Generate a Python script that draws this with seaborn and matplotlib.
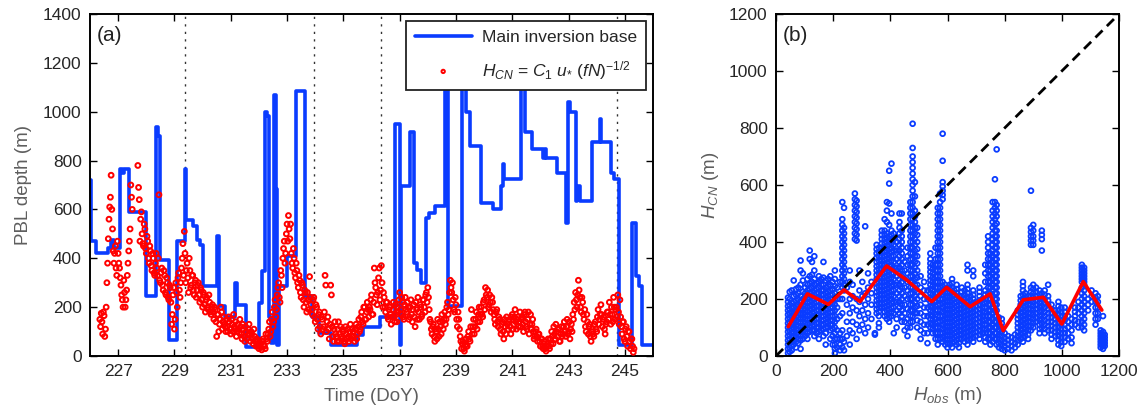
import numpy as np
import pandas as pd
import matplotlib
matplotlib.use("Agg")
import matplotlib.pyplot as plt
import seaborn as sns

# ---------------- data: panel (a) ----------------
# main inversion base (step series): day-of-year, value (m)
inv_day = [226.00, 226.05, 226.22, 226.64, 226.75, 226.87, 227.05, 227.15, 227.20, 227.40,
           228.00, 228.35, 228.40, 228.47, 228.80, 229.08, 229.38, 229.42, 229.65, 229.80,
           229.90, 230.00, 230.50, 230.58, 230.80, 231.15, 231.22, 231.55, 232.00, 232.12,
           232.22, 232.28, 232.36, 232.42, 232.54, 232.60, 232.63, 232.72, 233.00, 233.32,
           233.62, 233.90, 234.15, 234.55, 235.50, 235.70, 236.30, 236.84, 237.00, 237.06,
           237.38, 237.50, 237.60, 237.75, 237.95, 238.05, 238.25, 238.60, 238.72, 239.22,
           239.35, 239.50, 239.90, 240.30, 240.60, 240.68, 240.72, 241.30, 241.45, 241.70,
           242.10, 242.15, 242.20, 242.60, 242.90, 242.98, 243.05, 243.25, 243.30, 243.40,
           243.85, 244.10, 244.16, 244.50, 244.60, 244.78, 245.27, 245.40, 245.50, 245.60,
           246.00]
inv_base = [720, 470, 423, 441, 476, 441, 766, 750, 766, 590,
            244, 936, 900, 394, 66, 470, 766, 558, 531, 476,
            456, 285, 490, 203, 161, 300, 209, 38, 216, 346,
            997, 981, 161, 53, 1068, 682, 45, 285, 408, 1085,
            244, 160, 95, 45, 86, 120, 161, 949, 45, 695,
            915, 380, 353, 300, 566, 587, 613, 1130, 203, 1130,
            997, 860, 628, 600, 695, 784, 723, 1130, 915, 846,
            812, 846, 812, 751, 546, 1039, 997, 634, 695, 634,
            875, 969, 875, 751, 723, 45, 546, 326, 285, 45,
            45]

# H_CN estimate, two interleaved sample sets every 0.05 day
hcn_start_a = 226.35
hcn_start_b = 226.375
hcn_step = 0.05
hcn_vals_a = [
    150, 175, 90, 165, 110, 300, 480, 610, 740, 520,
    380, 450, 330, 420, 360, 290, 230, 310, 200, 270,
    380, 470, 700, 600, np.nan, np.nan, np.nan, 780, 640, 560,
    500, 450, 520, 420, 470, 380, 430, 350, 400, 330,
    420, 330, 660, 300, 360, 270, 330, 250, 300, 230,
    280, 130, 250, 110, 300, 200, 340, 240, 360, 460,
    510, 300, 380, 260, 350, 290, 330, 250, 310, 270,
    300, 220, 270, 200, 250, 180, 240, 190, 220, 170,
    210, 150, 190, 80, 170, 130, 200, 110, 160, 120,
    150, 100, 140, 90, 130, 170, 110, 80, 130, 95,
    120, 70, 110, 60, 100, 85, 130, 60, 90, 50,
    80, 40, 60, 30, 50, 25, 70, 40, 90, 60,
    110, 80, 150, 120, 200, 160, 250, 300, 220, 330,
    400, 470, 420, 540, 575, 480, 420, 360, 400, 320,
    350, 280, 310, 240, 290, 200, 260, 180, 230, 325,
    210, 170, 240, 140, 200, 110, 180, 90, 150, 120,
    330, 100, 160, 70, 290, 120, 60, 140, 80, 110,
    60, 120, 70, 100, 50, 90, 110, 60, 130, 80,
    100, 60, 130, 90, 150, 110, 180, 130, 200, 150,
    220, 160, 190, 250, 170, 360, 280, 210, 320, 230,
    370, 200, 240, 180, 220, 150, 200, 130, 190, 160,
    210, 140, 180, 260, 170, 220, 150, 240, 180, 200,
    160, 230, 140, 210, 120, 190, 240, 150, 200, 170,
    230, 180, 260, 280, 190, 140, 90, 130, 60, 100,
    150, 80, 120, 170, 110, 180, 150, 220, 190, 310,
    260, 230, 180, 210, 120, 150, 80, 30, 60, 20,
    70, 40, 100, 60, 190, 120, 90, 150, 110, 170,
    140, 200, 160, 230, 280, 240, 200, 250, 180, 220,
    170, 130, 190, 120, 150, 90, 140, 70, 120, 160,
    110, 150, 90, 170, 130, 190, 110, 160, 140, 120,
    160, 100, 180, 120, 150, 90, 170, 130, 100, 80,
    110, 60, 90, 40, 70, 30, 60, 20, 50, 40,
    70, 100, 50, 90, 130, 80, 110, 60, 120, 90,
    140, 80, 150, 100, 70, 130, 170, 220, 260, 200,
    310, 240, 180, 220, 150, 120, 170, 90, 130, 60,
    110, 80, 140, 100, 190, 150, 210, 120, 160, 90,
    140, 180, 220, 130, 170, 240, 150, 200, 250, 130,
    160, 90, 140, 60, 120, 40, 100, 30, 70, 15,
]
hcn_vals_b = [
    120, 140, 180, 80, 200, 380, 560, 650, 600, 430,
    420, 360, 470, 380, 320, 250, 200, 260, 230, 330,
    430, 520, 650, np.nan, np.nan, np.nan, np.nan, 690, 470, 590,
    460, 540, 440, 490, 400, 450, 370, 420, 340, 380,
    360, 400, 310, 340, 290, 350, 260, 320, 240, 290,
    220, 170, 280, 150, 260, 320, 270, 300, 400, 330,
    420, 350, 320, 400, 280, 330, 270, 300, 240, 290,
    250, 280, 230, 260, 210, 230, 200, 250, 180, 200,
    180, 200, 140, 170, 100, 150, 180, 140, 130, 100,
    120, 160, 110, 150, 100, 120, 140, 100, 110, 150,
    90, 130, 80, 120, 70, 110, 90, 100, 70, 110,
    60, 70, 40, 50, 35, 60, 45, 30, 70, 90,
    140, 100, 180, 140, 230, 190, 280, 240, 350, 280,
    440, 380, 500, 470, 520, 540, 380, 440, 340, 380,
    300, 330, 260, 300, 230, 270, 220, 260, 190, 240,
    190, 230, 160, 210, 150, 170, 120, 160, 110, 180,
    290, 140, 110, 130, 250, 80, 110, 90, 60, 140,
    90, 80, 110, 60, 120, 70, 80, 100, 70, 110,
    80, 110, 70, 120, 100, 160, 140, 200, 150, 180,
    190, 200, 230, 170, 220, 300, 250, 260, 360, 270,
    300, 260, 200, 220, 160, 190, 170, 160, 220, 140,
    170, 200, 230, 190, 240, 160, 210, 190, 220, 150,
    200, 170, 190, 160, 220, 150, 180, 210, 160, 230,
    200, 250, 220, 240, 150, 110, 120, 80, 110, 70,
    110, 140, 90, 140, 150, 130, 200, 170, 260, 280,
    300, 190, 240, 150, 180, 110, 60, 50, 30, 45,
    40, 80, 70, 120, 90, 150, 120, 180, 140, 200,
    170, 170, 220, 190, 250, 270, 210, 220, 240, 190,
    150, 180, 140, 160, 110, 130, 100, 150, 90, 130,
    140, 120, 160, 110, 160, 140, 150, 120, 180, 150,
    130, 170, 140, 110, 180, 130, 110, 150, 70, 100,
    80, 90, 60, 70, 40, 50, 30, 40, 70, 30,
    50, 80, 120, 70, 100, 110, 60, 90, 80, 120,
    100, 120, 90, 140, 110, 100, 150, 190, 230, 250,
    270, 200, 240, 170, 190, 100, 140, 120, 80, 100,
    90, 130, 110, 160, 130, 170, 170, 150, 110, 130,
    180, 150, 170, 200, 140, 200, 190, 160, 180, 230,
    120, 140, 70, 110, 80, 100, 60, 70, 40, 30,
]
event_days = [229.36, 233.95, 236.34, 244.73]

# ---------------- data: panel (b) ----------------
hobs_cols = [42, 48, 55, 62, 70, 78, 86, 94, 102, 110, 118, 126, 134, 142, 150, 158, 166, 174, 182, 190,
             198, 206, 214, 224, 232, 238, 248, 258, 268, 276, 282, 292, 302, 312, 322, 334, 346, 352, 360, 370,
             380, 388, 396, 404, 412, 422, 432, 440, 450, 460, 470, 478, 486, 494, 506, 518, 530, 540, 548, 558,
             566, 574, 583, 592, 600, 608, 616, 624, 632, 640, 650, 660, 670, 680, 690, 700, 712, 722, 732, 742,
             750, 758, 766, 772, 780, 790, 800, 812, 824, 836, 846, 856, 864, 872, 882, 892, 900, 910, 922, 930,
             940, 952, 964, 976, 988, 998, 1010, 1022, 1034, 1046, 1058, 1070, 1078, 1092, 1104, 1118, 1126, 1136, 1144, 1150]
hcn_cols = [
    [10, 25, 40, 55, 70, 85, 100, 115, 130, 145, 160, 175, 190, 205],
    [15, 30, 45, 60, 75, 90, 105, 120, 135, 150, 165, 180, 200, 225],
    [20, 35, 50, 65, 80, 95, 110, 125, 140, 155, 170, 185, 230],
    [40, 55, 70, 85, 100, 115, 130, 150, 170, 190, 210, 265],
    [30, 50, 65, 80, 95, 110, 125, 140, 155, 175, 195, 215, 235],
    [45, 60, 75, 90, 105, 120, 135, 150, 165, 180, 200, 220, 240],
    [25, 55, 70, 85, 100, 115, 130, 145, 160, 175, 190, 210, 250, 300, 335],
    [60, 75, 90, 105, 120, 135, 150, 165, 180, 200, 225, 265, 290],
    [70, 85, 100, 115, 130, 145, 160, 175, 190, 205, 220, 240],
    [60, 80, 95, 110, 125, 140, 155, 170, 185, 200, 215, 230, 250, 270],
    [85, 100, 115, 130, 145, 160, 175, 190, 205, 220, 235, 255, 280, 340, 370],
    [90, 105, 120, 135, 150, 165, 180, 195, 210, 225, 240, 260, 285, 330],
    [70, 90, 110, 125, 140, 155, 170, 185, 200, 215, 230, 250, 270, 300, 350],
    [80, 100, 115, 130, 145, 160, 175, 190, 205, 220, 235, 255],
    [60, 85, 100, 115, 130, 145, 160, 175, 190, 205, 220, 240, 260, 280],
    [90, 110, 125, 140, 155, 170, 185, 200, 215, 230, 250, 270],
    [70, 95, 110, 125, 140, 155, 170, 185, 200, 215, 230, 250, 275, 330],
    [40, 80, 100, 115, 130, 145, 160, 175, 190, 205, 220, 240, 265],
    [100, 120, 135, 150, 165, 180, 195, 210, 225, 245, 270],
    [60, 90, 110, 125, 140, 155, 170, 185, 200, 215, 230, 250, 280],
    [40, 70, 95, 110, 125, 140, 155, 170, 185, 200, 215, 235, 260],
    [10, 25, 40, 60, 80, 100, 120, 140, 160, 180, 200, 220, 245, 270, 300],
    [30, 60, 90, 130, 170, 200, 240],
    [20, 40, 60, 80, 140, 200, 260],
    [30, 60, 90, 150, 200, 240, 260, 280, 300, 320, 340, 360, 380, 400, 420, 440, 460, 480, 540],
    [20, 50, 230, 250, 270, 290, 310, 330, 350, 370, 390, 410, 430, 450, 520],
    [70, 120, 180, 240],
    [40, 90, 150, 200, 260, 300],
    [80, 120, 170, 210, 250],
    [410, 430, 450, 470, 490, 510, 530, 550, 570],
    [60, 110, 160, 200, 405, 425, 445, 465, 485, 505, 525, 545],
    [90, 140, 190, 230, 300],
    [110, 160, 210, 260],
    [80, 130, 180, 220, 455],
    [100, 150, 200, 240, 290],
    [130, 180, 220, 260],
    [75, 80],
    [150, 165, 180, 195, 210, 225, 240, 255, 270, 285, 300, 315, 330, 345, 360, 375, 390],
    [100, 115, 140, 155, 170, 185, 200, 215, 230, 245, 260, 275, 290, 305, 320, 335, 350, 365, 380],
    [170, 185, 200, 215, 230, 245, 260, 275, 290, 305, 320, 335, 350, 365, 380, 395, 410, 425, 440],
    [140, 155, 170, 185, 200, 215, 230, 245, 260, 275, 290, 305, 320, 335, 350, 365, 380, 395, 410, 425, 440, 480],
    [130, 145, 160, 175, 190, 205, 220, 235, 250, 265, 280, 295, 310, 325, 340, 355, 370, 385, 400, 415, 430, 470, 510, 540],
    [120, 135, 150, 165, 180, 195, 210, 225, 240, 255, 270, 285, 300, 315, 330, 345, 360, 375, 390, 405, 420, 460, 535, 605, 650],
    [140, 155, 170, 185, 200, 215, 230, 245, 260, 275, 290, 305, 320, 335, 350, 365, 380, 395, 410, 425, 440, 500, 675],
    [80, 150, 170, 190, 210, 230, 250, 270, 290, 310, 330, 350, 370, 390, 410, 430],
    [100, 130, 160, 190, 220, 250, 280, 310, 340, 370, 400],
    [150, 170, 190, 210, 230, 250, 270, 290, 310, 330, 350, 370, 390, 410, 430, 450, 470, 500],
    [120, 140, 160, 180, 200, 220, 240, 260, 280, 300, 320, 340, 360, 380, 400, 420, 440, 500],
    [90, 120, 150, 180, 210, 240, 270, 300, 330],
    [70, 100, 130, 165, 200, 230, 260, 290, 320, 350, 380],
    [100, 120, 140, 160, 180, 200, 220, 240, 260, 280, 300, 320, 340, 360, 380, 400, 420, 440, 460, 480, 500, 520, 540],
    [120, 140, 160, 180, 200, 220, 240, 260, 280, 300, 320, 340, 360, 380, 400, 420, 440, 460, 480, 500, 520, 540, 560,
     580, 600, 620, 640, 660, 680, 700, 730, 815],
    [150, 170, 190, 210, 230, 250, 270, 290, 310, 330, 350, 370, 390, 410, 430, 450, 470, 490, 510, 560, 610],
    [100, 125, 150, 175, 200, 225, 250, 275, 300, 325, 350, 375, 400, 425, 450],
    [60, 90, 120, 150, 180, 210, 240, 280],
    [80, 110, 140, 170, 200, 230, 260],
    [45, 80, 110, 140, 170, 200, 230],
    [100, 115, 130, 145, 160, 175, 190, 205, 220, 235, 250, 265, 280, 295, 310, 325, 340, 360],
    [80, 95, 110, 125, 140, 155, 170, 185, 200, 215, 230, 245, 260, 275, 290, 305, 320],
    [60, 80, 100, 115, 130, 145, 160, 175, 190, 205, 220, 240, 260, 280, 300, 320, 340, 380],
    [40, 60, 80, 100, 120, 140, 160, 180, 200, 220, 240, 260, 280, 300, 320, 340, 360, 380, 400, 420, 440, 460, 480,
     500, 520],
    [60, 80, 100, 120, 140, 160, 180, 200, 220, 240, 260, 280, 300, 320, 340, 360, 380, 400, 420, 440, 460, 480, 500,
     520, 540, 570],
    [50, 65, 80, 95, 110, 125, 140, 155, 170, 185, 200, 215, 230, 245, 260, 550, 565, 580, 595, 610, 685, 780],
    [40, 55, 70, 85, 100, 115, 130, 145, 160, 175, 190, 205, 220, 235, 250],
    [30, 45, 60, 75, 90, 105, 120, 135, 150, 165, 180, 195, 210, 225, 240],
    [40, 55, 70, 85, 100, 115, 130, 145, 160, 175, 190, 205, 220, 235, 250],
    [30, 45, 60, 75, 90, 105, 120, 135, 150, 165, 180, 195, 210, 225, 240, 255, 270],
    [50, 65, 80, 95, 110, 125, 140, 155, 170, 185, 200, 215, 230],
    [40, 55, 70, 85, 100, 115, 130, 145, 160, 175, 190, 205, 220, 235, 250],
    [30, 45, 60, 75, 90, 105, 120, 135, 150, 165, 180, 195, 210],
    [60, 75, 90, 105, 120, 135, 150, 165, 180, 195, 210, 225, 240],
    [50, 65, 80, 95, 110, 125, 140, 155, 170, 185, 200, 215, 230],
    [40, 55, 70, 85, 100, 115, 130, 145, 160, 175, 190, 205, 220, 235, 250, 300, 320],
    [60, 75, 90, 105, 120, 135, 150, 165, 180, 195, 210],
    [50, 65, 80, 95, 110, 125, 140, 155, 170, 185, 200, 215, 230, 280, 300],
    [70, 85, 100, 115, 130, 145, 160, 175, 190],
    [60, 75, 90, 105, 120, 135, 150, 165, 180, 195, 210, 225, 240],
    [80, 95, 110, 125, 140, 155, 170, 185, 200],
    [50, 65, 80, 95, 110, 125, 140, 155, 170, 185, 200, 215, 230, 260, 290, 320],
    [60, 80, 100, 120, 140, 160, 180, 200, 220, 240, 260, 280, 300, 320, 340, 360, 380, 400, 420],
    [40, 60, 80, 100, 120, 140, 160, 180, 200, 220, 240, 260, 280, 300, 320, 340, 360],
    [50, 70, 90, 110, 130, 150, 170, 190, 210, 230, 250, 270, 290, 310, 330, 350, 370, 390, 410, 430, 450, 470, 490,
     510, 540],
    [60, 80, 100, 120, 140, 160, 180, 200, 220, 240, 260, 280, 300, 320, 340, 360, 380, 400, 420, 440, 460, 480, 500,
     520, 540, 620],
    [40, 60, 80, 100, 120, 140, 160, 180, 200, 220, 240, 260, 280, 300, 320, 340, 360, 380, 400, 420, 440, 465, 490,
     510, 530, 725],
    [30, 45, 60, 75, 90, 105, 120, 135],
    [25, 40, 55, 70, 85, 100, 115, 130],
    [20, 35, 50, 65, 80],
    [25, 40, 55, 70],
    [20, 35, 50, 65],
    [30, 45, 60, 75],
    [40, 55, 70, 85, 100, 115, 130, 145, 160],
    [60, 75, 90, 105, 120, 135, 150, 165, 180, 195, 210],
    [50, 65, 80, 95, 110, 125, 140, 155, 170, 185, 200, 215, 230, 245, 260],
    [70, 85, 100, 115, 130, 145, 160, 175, 190, 205, 220],
    [60, 75, 90, 105, 120, 135, 150, 165, 180, 195, 210],
    [90, 105, 120, 135, 150, 165, 180, 195, 210, 225, 240, 390, 405, 420, 435, 450, 580],
    [100, 115, 130, 145, 160, 175, 190, 205, 220, 235, 250, 390, 405, 420, 440, 460],
    [120, 135, 150, 165, 180, 195, 210, 225, 240],
    [80, 95, 110, 125, 140, 155, 170, 185, 200, 215, 230],
    [100, 115, 130, 145, 160, 175, 190, 205, 220, 370, 410, 425, 440],
    [80, 95, 110, 125, 140, 155, 170, 185, 200, 215, 230],
    [90, 105, 120, 135, 150, 165, 180, 195, 210, 250],
    [60, 75, 90, 105, 120, 135, 150, 165, 180],
    [70, 85, 100, 115, 130, 145, 160],
    [40, 55, 70, 85, 100, 115, 130, 145, 160, 175, 190],
    [35, 50, 65, 80, 95, 110, 125, 140, 155, 170],
    [50, 65, 80, 95, 110, 125, 140, 155, 170],
    [60, 80, 100, 120, 140],
    [45, 65, 90, 110, 130],
    [110, 125, 140, 155, 170],
    [100, 120, 150, 170, 190],
    [100, 120, 140, 160, 180, 200, 220, 240, 260, 270, 280, 290, 300, 310, 320],
    [90, 110, 130, 150, 170, 190, 210, 230, 250, 260, 270, 280, 290, 300, 310],
    [160, 180, 200],
    [190, 210, 230],
    [110, 130, 150, 170, 190, 205, 220],
    [130, 150, 170, 190, 210],
    [30, 40, 50, 60, 70, 80, 90],
    [25, 35, 45, 55, 65, 75, 85, 140],
    [35, 45, 55, 65, 75],
]
# bin medians of H_CN vs H_obs
med_x = [43, 110, 183, 238, 294, 387, 457, 545, 597, 679, 749, 795, 865, 935, 1000, 1075, 1140]
med_y = [103, 218, 181, 232, 191, 316, 267, 191, 241, 173, 218, 89, 197, 206, 112, 261, 161]
one_to_one = [0, 1200]

# ---------------- build tables ----------------
df_inv = pd.DataFrame({"day": inv_day, "h": inv_base})
day_a = hcn_start_a + hcn_step * np.arange(len(hcn_vals_a))
day_b = hcn_start_b + hcn_step * np.arange(len(hcn_vals_b))
df_hcn = pd.DataFrame({"day": np.concatenate([day_a, day_b]),
                       "h": np.concatenate([hcn_vals_a, hcn_vals_b])}).dropna()
bx, by = [], []
for xv, ys in zip(hobs_cols, hcn_cols):
    bx += [xv] * len(ys)
    by += ys
df_b = pd.DataFrame({"hobs": bx, "hcn": by})

# ---------------- style ----------------
sns.set_style("ticks")
plt.rcParams["font.family"] = ["Liberation Sans", "DejaVu Sans"]
plt.rcParams["mathtext.fontset"] = "custom"
plt.rcParams["mathtext.rm"] = "Liberation Sans"
plt.rcParams["mathtext.it"] = "Liberation Sans:italic"
plt.rcParams["mathtext.bf"] = "Liberation Sans:bold"

BLUE = "#0a3cff"
RED = "#ff0000"
TICKC = "#262626"
LABC = "#5e5e5e"

fig = plt.figure(figsize=(11.45, 4.19), dpi=100)
ax1 = fig.add_axes([90 / 1145, 63 / 419, 563 / 1145, 342 / 419])
ax2 = fig.add_axes([776 / 1145, 63 / 419, 343 / 1145, 342 / 419])

# ---- panel (a)
for d in event_days:
    ax1.axvline(d, color="#333333", lw=1.0, ls=(0, (1.6, 3.8)), zorder=1)
sns.lineplot(data=df_inv, x="day", y="h", drawstyle="steps-post", estimator=None, sort=False,
             color=BLUE, lw=2.6, ax=ax1, label="Main inversion base", zorder=2)
sns.scatterplot(data=df_hcn, x="day", y="h", marker="o", s=12, facecolors="none",
                edgecolor=RED, linewidth=1.4, ax=ax1, zorder=3,
                label=r"$H_{CN}$ = $C_{1}$ $u_{*}$ $(fN)^{-1/2}$")
ax1.set_xlim(226, 246)
ax1.set_ylim(0, 1400)
ax1.set_xticks(range(227, 246, 2))
ax1.set_yticks(range(0, 1401, 200))
ax1.set_xlabel("Time (DoY)", fontsize=13.5, color=LABC, labelpad=6)
ax1.set_ylabel("PBL depth (m)", fontsize=13.5, color=LABC, labelpad=8)
ax1.text(0.012, 0.965, "(a)", transform=ax1.transAxes, fontsize=15, va="top", ha="left", color="#222222")
leg = ax1.legend(loc="upper right", fontsize=12.5, frameon=True, fancybox=False, framealpha=1,
                 edgecolor="#222222", handlelength=3.3, borderaxespad=0.4, borderpad=0.5,
                 labelspacing=0.8, handletextpad=0.6, markerscale=0.7)
leg.get_frame().set_linewidth(1.3)

# ---- panel (b)
sns.scatterplot(data=df_b, x="hobs", y="hcn", marker="o", s=12, facecolors="none",
                edgecolor=BLUE, linewidth=1.3, ax=ax2, zorder=2, legend=False)
sns.lineplot(x=one_to_one, y=one_to_one, color="black", lw=2.0, ax=ax2, zorder=3,
             ls=(0, (3.6, 2.2)))
sns.lineplot(x=med_x, y=med_y, color=RED, lw=2.6, estimator=None, sort=False, ax=ax2, zorder=4)
ax2.set_xlim(0, 1200)
ax2.set_ylim(0, 1200)
ax2.set_xticks(range(0, 1201, 200))
ax2.set_yticks(range(0, 1201, 200))
ax2.set_xlabel(r"$H_{obs}$ (m)", fontsize=13.5, color=LABC, labelpad=4)
ax2.set_ylabel(r"$H_{CN}$ (m)", fontsize=13.5, color=LABC, labelpad=6)
ax2.text(0.02, 0.965, "(b)", transform=ax2.transAxes, fontsize=15, va="top", ha="left", color="#222222")

for ax in (ax1, ax2):
    ax.tick_params(direction="in", top=True, right=True, length=5, width=1.0,
                   labelsize=12.5, labelcolor=TICKC, color="black", pad=6)
    for sp in ax.spines.values():
        sp.set_visible(True)
        sp.set_linewidth(1.4)
        sp.set_color("black")

fig.savefig("out.png", dpi=100)
